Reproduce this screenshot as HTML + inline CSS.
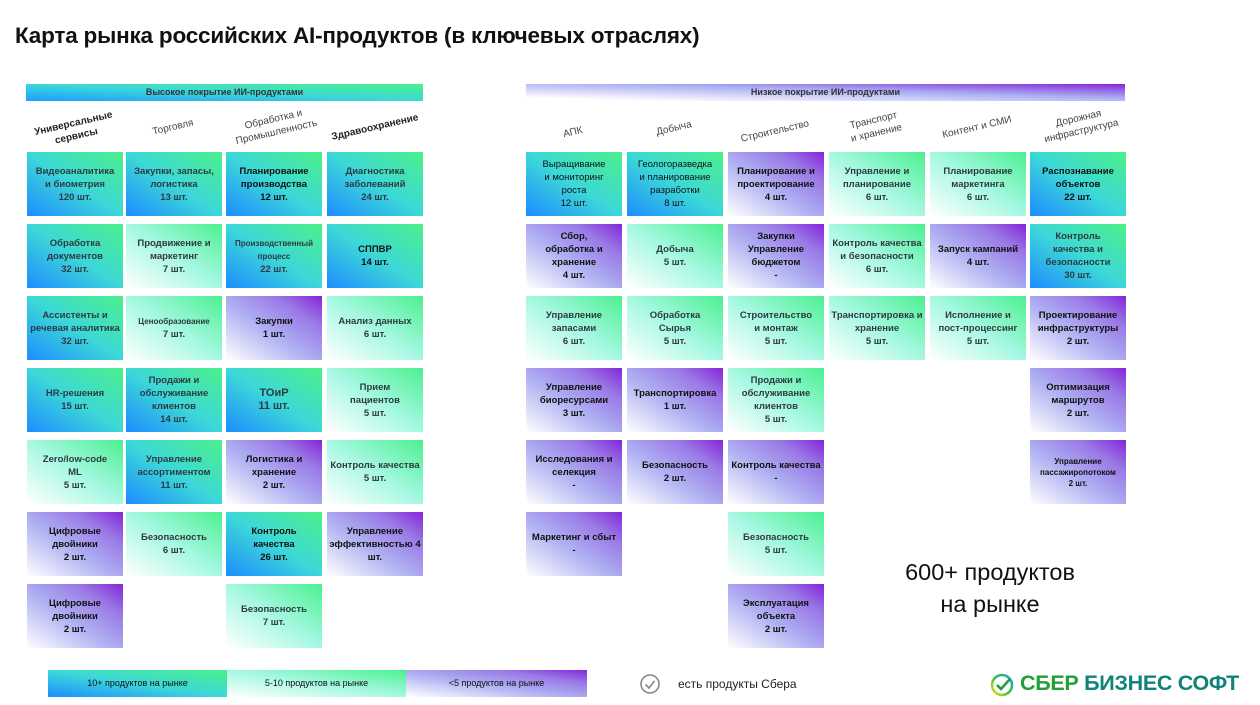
<!DOCTYPE html>
<html><head><meta charset="utf-8"><style>
body{margin:0;width:1260px;height:705px;background:#fff;position:relative;overflow:hidden;font-family:"Liberation Sans","DejaVu Sans",sans-serif;}
.c{position:absolute;width:96px;height:64px;display:flex;align-items:center;justify-content:center;text-align:center;font-size:9.5px;font-weight:bold;color:#2e3a40;line-height:13px;box-sizing:border-box;padding:0 2px;}
.A{background:linear-gradient(to top right,#1e8cff 0%,#3cd8d8 50%,#4cf08a 100%);}
.B{background:linear-gradient(to top right,#ffffff 0%,#a6f8e2 50%,#4cf090 100%);}
.P{background:linear-gradient(to top right,#ffffff 0%,#aeb0f2 45%,#9a7ae6 75%,#8426d8 100%);color:#111;}
.h{position:absolute;font-size:10px;color:#444;transform:rotate(-13deg);text-align:center;width:110px;line-height:13px;}
.t{position:absolute;font-weight:bold;font-size:9px;color:#333;text-align:center;height:17px;line-height:17px;}
.l{position:absolute;top:670px;height:27px;line-height:27px;font-size:9px;color:#111;text-align:center;}
</style></head><body>
<div style="position:absolute;left:15px;top:23px;font-size:22.5px;font-weight:bold;color:#111;letter-spacing:-0.2px">Карта рынка российских AI-продуктов (в ключевых отраслях)</div>

<div class="t" style="left:26px;top:84px;width:397px;background:linear-gradient(to top right,#1e9cff,#3cd8d8 50%,#4cf08a)">Высокое покрытие ИИ-продуктами</div>
<div class="t" style="left:526px;top:84px;width:599px;background:linear-gradient(to top right,#ffffff 10%,#a8aaf2 60%,#8426d8)">Низкое покрытие ИИ-продуктами</div>

<div class="h" style="left:20px;top:117px;font-weight:bold;color:#222">Универсальные<br>сервисы</div>
<div class="h" style="left:118px;top:121px">Торговля</div>
<div class="h" style="left:220px;top:113px">Обработка и<br>Промышленность</div>
<div class="h" style="left:320px;top:121px;font-weight:bold;color:#222">Здравоохранение</div>
<div class="h" style="left:518px;top:126px">АПК</div>
<div class="h" style="left:619px;top:122px">Добыча</div>
<div class="h" style="left:720px;top:125px">Строительство</div>
<div class="h" style="left:820px;top:114px">Транспорт<br>и хранение</div>
<div class="h" style="left:922px;top:121px">Контент и СМИ</div>
<div class="h" style="left:1025px;top:112px">Дорожная<br>инфраструктура</div>

<!-- left -->
<div class="c A" style="left:27px;top:152px">Видеоаналитика<br>и биометрия<br>120 шт.</div>
<div class="c A" style="left:126px;top:152px">Закупки, запасы,<br>логистика<br>13 шт.</div>
<div class="c A" style="left:226px;top:152px;color:#111">Планирование<br>производства<br>12 шт.</div>
<div class="c A" style="left:327px;top:152px">Диагностика<br>заболеваний<br>24 шт.</div>
<div class="c A" style="left:27px;top:224px">Обработка<br>документов<br>32 шт.</div>
<div class="c B" style="left:126px;top:224px">Продвижение и<br>маркетинг<br>7 шт.</div>
<div class="c A" style="left:226px;top:224px"><span><span style="font-size:8px">Производственный<br>процесс</span><br>22 шт.</span></div>
<div class="c A" style="left:327px;top:224px;color:#111">СППВР<br>14 шт.</div>
<div class="c A" style="left:27px;top:296px">Ассистенты и<br>речевая аналитика<br>32 шт.</div>
<div class="c B" style="left:126px;top:296px"><span><span style="font-size:8px">Ценообразование</span><br>7 шт.</span></div>
<div class="c P" style="left:226px;top:296px">Закупки<br>1 шт.</div>
<div class="c B" style="left:327px;top:296px">Анализ данных<br>6 шт.</div>
<div class="c A" style="left:27px;top:368px">HR-решения<br>15 шт.</div>
<div class="c A" style="left:126px;top:368px">Продажи и<br>обслуживание<br>клиентов<br>14 шт.</div>
<div class="c A" style="left:226px;top:368px;font-size:11px">ТОиР<br>11 шт.</div>
<div class="c B" style="left:327px;top:368px">Прием<br>пациентов<br>5 шт.</div>
<div class="c B" style="left:27px;top:440px">Zero/low-code<br>ML<br>5 шт.</div>
<div class="c A" style="left:126px;top:440px">Управление<br>ассортиментом<br>11 шт.</div>
<div class="c P" style="left:226px;top:440px">Логистика и<br>хранение<br>2 шт.</div>
<div class="c B" style="left:327px;top:440px">Контроль качества<br>5 шт.</div>
<div class="c P" style="left:27px;top:512px">Цифровые<br>двойники<br>2 шт.</div>
<div class="c B" style="left:126px;top:512px">Безопасность<br>6 шт.</div>
<div class="c A" style="left:226px;top:512px;color:#111">Контроль<br>качества<br>26 шт.</div>
<div class="c P" style="left:327px;top:512px">Управление<br>эффективностью 4<br>шт.</div>
<div class="c P" style="left:27px;top:584px">Цифровые<br>двойники<br>2 шт.</div>
<div class="c B" style="left:226px;top:584px">Безопасность<br>7 шт.</div>

<!-- right -->
<div class="c A" style="left:526px;top:152px;font-weight:normal;color:#111">Выращивание<br>и мониторинг<br>роста<br>12 шт.</div>
<div class="c A" style="left:627px;top:152px;font-weight:normal;color:#111">Геологоразведка<br>и планирование<br>разработки<br>8 шт.</div>
<div class="c P" style="left:728px;top:152px">Планирование и<br>проектирование<br>4 шт.</div>
<div class="c B" style="left:829px;top:152px">Управление и<br>планирование<br>6 шт.</div>
<div class="c B" style="left:930px;top:152px">Планирование<br>маркетинга<br>6 шт.</div>
<div class="c A" style="left:1030px;top:152px;color:#111">Распознавание<br>объектов<br>22 шт.</div>
<div class="c P" style="left:526px;top:224px">Сбор,<br>обработка и<br>хранение<br>4 шт.</div>
<div class="c B" style="left:627px;top:224px">Добыча<br>5 шт.</div>
<div class="c P" style="left:728px;top:224px">Закупки<br>Управление<br>бюджетом<br>-</div>
<div class="c B" style="left:829px;top:224px">Контроль качества<br>и безопасности<br>6 шт.</div>
<div class="c P" style="left:930px;top:224px">Запуск кампаний<br>4 шт.</div>
<div class="c A" style="left:1030px;top:224px">Контроль<br>качества и<br>безопасности<br>30 шт.</div>
<div class="c B" style="left:526px;top:296px">Управление<br>запасами<br>6 шт.</div>
<div class="c B" style="left:627px;top:296px">Обработка<br>Сырья<br>5 шт.</div>
<div class="c B" style="left:728px;top:296px">Строительство<br>и монтаж<br>5 шт.</div>
<div class="c B" style="left:829px;top:296px">Транспортировка и<br>хранение<br>5 шт.</div>
<div class="c B" style="left:930px;top:296px">Исполнение и<br>пост-процессинг<br>5 шт.</div>
<div class="c P" style="left:1030px;top:296px">Проектирование<br>инфраструктуры<br>2 шт.</div>
<div class="c P" style="left:526px;top:368px">Управление<br>биоресурсами<br>3 шт.</div>
<div class="c P" style="left:627px;top:368px">Транспортировка<br>1 шт.</div>
<div class="c B" style="left:728px;top:368px">Продажи и<br>обслуживание<br>клиентов<br>5 шт.</div>
<div class="c P" style="left:1030px;top:368px">Оптимизация<br>маршрутов<br>2 шт.</div>
<div class="c P" style="left:526px;top:440px">Исследования и<br>селекция<br>-</div>
<div class="c P" style="left:627px;top:440px">Безопасность<br>2 шт.</div>
<div class="c P" style="left:728px;top:440px">Контроль качества<br>-</div>
<div class="c P" style="left:1030px;top:440px;font-size:8px;line-height:11px">Управление<br>пассажиропотоком<br>2 шт.</div>
<div class="c P" style="left:526px;top:512px">Маркетинг и сбыт<br>-</div>
<div class="c B" style="left:728px;top:512px">Безопасность<br>5 шт.</div>
<div class="c P" style="left:728px;top:584px">Эксплуатация<br>объекта<br>2 шт.</div>

<div style="position:absolute;left:879px;top:556px;width:222px;text-align:center;font-size:23.5px;line-height:32px;color:#111">600+ продуктов<br>на рынке</div>

<div class="l A" style="left:48px;width:179px">10+ продуктов на рынке</div>
<div class="l B" style="left:227px;width:179px">5-10 продуктов на рынке</div>
<div class="l P" style="left:406px;width:181px">&lt;5 продуктов на рынке</div>

<svg style="position:absolute;left:639px;top:673px" width="22" height="22"><circle cx="11" cy="11" r="9" fill="none" stroke="#888" stroke-width="1.6"/><path d="M6.5 11.5 L10 15 L15.5 8" fill="none" stroke="#888" stroke-width="1.6"/></svg>
<div style="position:absolute;left:678px;top:677px;font-size:12px;color:#222">есть продукты Сбера</div>

<svg style="position:absolute;left:990px;top:672px" width="26" height="26"><defs><linearGradient id="g" x1="0" y1="1" x2="1" y2="0"><stop offset="0" stop-color="#f2e200"/><stop offset="0.5" stop-color="#2fc24a"/><stop offset="1" stop-color="#1aa0e0"/></linearGradient></defs><circle cx="12" cy="13" r="10" fill="none" stroke="url(#g)" stroke-width="2.5"/><path d="M7 13 L11 17 L20 7" fill="none" stroke="#21a038" stroke-width="2.5"/></svg>
<div style="position:absolute;left:1020px;top:671px;font-size:21.5px;font-weight:bold;white-space:nowrap;letter-spacing:-0.3px"><span style="color:#21a038">СБЕР</span> <span style="color:#10847a">БИЗНЕС СОФТ</span></div>
</body></html>
